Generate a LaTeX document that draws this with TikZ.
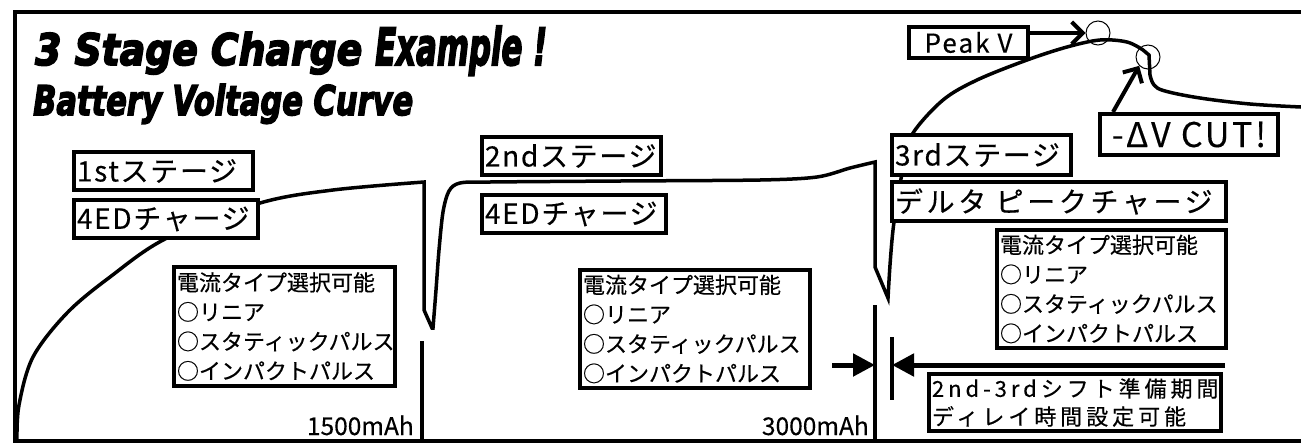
\documentclass[tikz,border=0pt]{standalone}
\usepackage{fontspec}
\usetikzlibrary{arrows.meta,calc}
\newfontfamily\jp{Noto Sans CJK JP}[FakeBold=0.3]
\newfontfamily\jpst{Noto Sans CJK JP}[LetterSpace=6,FakeBold=0.3]
\newfontfamily\jpdl{Noto Sans CJK JP}[LetterSpace=13,FakeBold=0.3]
\newfontfamily\jpdy{Noto Sans CJK JP}[LetterSpace=18,FakeBold=0.3]
\newfontfamily\jplat{Noto Sans CJK JP}[LetterSpace=8,FakeBold=0.3]
\newfontfamily\ttl{DejaVu Sans}[FakeBold=4]
\tikzset{
  frame/.style={line width=4pt},
  vcurve/.style={line width=3.5pt, line join=miter},
  lbox/.style={draw, line width=4pt, fill=white, inner xsep=3pt, inner ysep=0pt, align=left},
  stage/.style={lbox, font=\jpst\fontsize{28}{30}\selectfont},
  info/.style={lbox, font=\jp\fontsize{22}{29.5}\selectfont},
  delaybox/.style={lbox, font=\jpdy\fontsize{22}{28}\selectfont},
  barb/.style={line width=4pt, -{Straight Barb[length=11pt, width=22pt, line width=4pt]}},
  tri/.style={line width=5pt, -{Triangle[length=22pt, width=22pt]}},
  ring/.style={circle, draw, line width=1pt, minimum size=24pt, inner sep=0pt},
  mah/.style={font=\jp\fontsize{24.5}{26}\selectfont, anchor=base east, inner sep=0pt},
  ttlnode/.style={anchor=base west, inner sep=0pt, font=\ttl\bfseries\itshape},
}
\begin{document}
\begin{tikzpicture}[x=1pt,y=-1pt]
\useasboundingbox (0,0) rectangle (1301,445);
% frame
\draw[frame] (1301,12) -- (15,12) -- (15,440.5) -- (1301,440.5);
% title
\node[ttlnode] (t1) at (35,65) {\resizebox{327pt}{33pt}{3 Stage Charge}};
\node[ttlnode] (t2) at (375,65) {\resizebox{172pt}{39pt}{Example !}};
\node[ttlnode] (t3) at (33,115) {\resizebox{380pt}{31pt}{Battery Voltage Curve}};
% voltage curve
\draw[vcurve] plot[smooth, tension=0.55] coordinates {(17,440) (19,405) (33,357) (67,313) (110,277) (167,238) (260,203) (333,190) (424,182)}
  -- (424,310) -- (432,328)
  -- plot[smooth, tension=0.5] coordinates {(433,328) (436,290) (439,250) (443,212) (449,191) (460,183) (490,182) (620,181) (760,180) (817,177) (850,168) (875,162)}
  -- (875,267) -- (888,298)
  -- plot[smooth, tension=0.55] coordinates {(888,298) (890,265) (893,230) (898,195) (905,160) (913,133) (943,100) (977,80) (1027,60) (1067,47) (1100,40) (1127,42) (1143,50)}
  -- (1149,55) -- (1150,75)
  -- plot[smooth, tension=0.6] coordinates {(1150,75) (1154,85) (1165,91) (1200,98) (1250,104) (1301,107)};
% stage separators
\coordinate (sepA) at (422,341);
\coordinate (sepAb) at (422,440);
\coordinate (sepB) at (875,305);
\coordinate (sepBb) at (875,440);
\draw[vcurve] (sepA) -- (sepAb);
\draw[vcurve] (sepB) -- (sepBb);
% stage 1
\node[stage, minimum width=179pt, minimum height=38pt, text width=173pt] (s1) at (163.5,171) {1stステージ};
\node[stage, minimum width=184pt, minimum height=38pt, text width=178pt] (c1) at (166,219) {4EDチャージ};
\node[info, minimum width=221pt, minimum height=119pt, text width=215pt] (e1) at (284.5,326.5) {電流タイプ選択可能\\○リニア\\○スタティックパルス\\○インパクトパルス};
% stage 2
\node[stage, minimum width=179pt, minimum height=38pt, text width=173pt] (s2) at (571.5,156) {2ndステージ};
\node[stage, minimum width=184pt, minimum height=38pt, text width=178pt] (c2) at (574,214) {4EDチャージ};
\node[info, minimum width=230pt, minimum height=118pt, text width=224pt] (e2) at (695,329) {電流タイプ選択可能\\○リニア\\○スタティックパルス\\○インパクトパルス};
% stage 3
\node[stage, minimum width=179pt, minimum height=40pt, text width=173pt] (s3) at (981.5,155) {3rdステージ};
\node[lbox, font=\jpdl\fontsize{28}{30}\selectfont, minimum width=334pt, minimum height=39pt, text width=328pt] (d3) at (1059,201.5) {デルタ ピークチャージ};
\node[info, minimum width=229pt, minimum height=118pt, text width=223pt] (e3) at (1111.5,289) {電流タイプ選択可能\\○リニア\\○スタティックパルス\\○インパクトパルス};
% capacity labels
\node[mah] (m1) at (414,435) {1500mAh};
\node[mah] (m2) at (869,435) {3000mAh};
% peak and cut
\node[ring] (pc1) at (1098,33) {};
\node[ring] (pc2) at (1148,57) {};
\node[lbox, font=\jplat\fontsize{26}{28}\selectfont, minimum width=119pt, minimum height=31pt] (pk) at (968.5,42.5) {Peak V};
\node[lbox, font=\jplat\fontsize{34}{36}\selectfont, minimum width=178pt, minimum height=41pt] (cut) at (1189,134.5) {-ΔV CUT!};
\draw[barb] (pk.east |- pc1.west) -- (pc1.west);
\draw[barb] ($(cut.north west)+(15,0)$) -- (pc2.south west);
% delay
\node[delaybox, minimum width=292pt, minimum height=57pt, text width=286pt] (dl) at (1075,402.5) {2nd-3rdシフト準備期間\\ディレイ時間設定可能};
\coordinate (dA) at (832,365);
\coordinate (dAt) at (875,365);
\coordinate (dB) at (1225,365);
\coordinate (dBt) at (892,365);
\coordinate (barT) at (892,337);
\coordinate (barB) at (892,400);
\draw[tri] (dA) -- (dAt);
\draw[tri] (dB) -- (dBt);
\draw[line width=4pt] (barT) -- (barB);
\end{tikzpicture}
\end{document}
